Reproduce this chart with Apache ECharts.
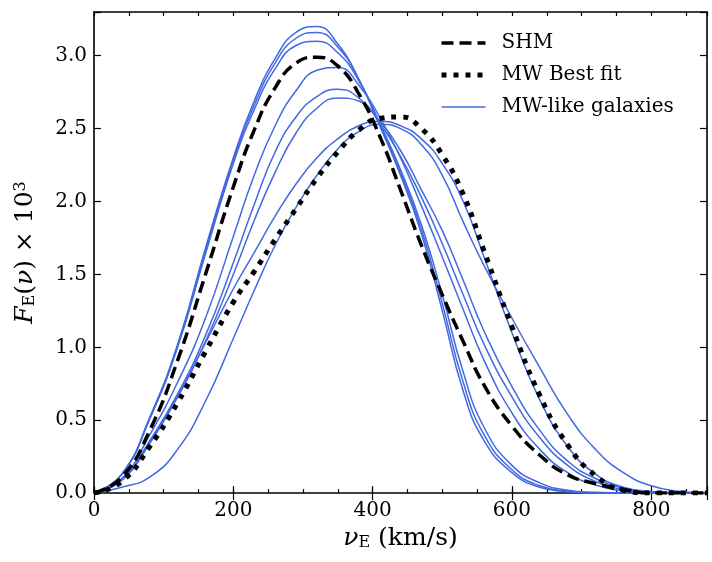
<!DOCTYPE html>
<html>
<head>
<meta charset="utf-8">
<script src="https://cdn.jsdelivr.net/npm/echarts@6/dist/echarts.min.js"></script>
<style>html,body{margin:0;padding:0;background:#fff;}#chart{width:712px;height:562px;}</style>
</head>
<body>
<div id="chart"></div>
<script>
// velocity grid (km/s)
var velocities = [0,40,80,120,160,200,230,260,290,320,350,380,410,440,470,500,530,560,600,640,680,720,760,800,840,880];
// F_E(v) x 10^3
var shm    = [0,0.11,0.43,0.91,1.50,2.10, 2.49,2.78,2.95,2.99,2.93,2.74,2.45,2.08,1.70,1.36,1.04,0.74, 0.46,0.26,0.125,0.065,0.025, 0,0,0];
var mwBest = [0,0.08,0.32,0.62,0.97,1.31, 1.52,1.74,1.95,2.16,2.34,2.49,2.57,2.58,2.50,2.32,2.05,1.66, 1.14,0.67,0.33,0.12,0.02, 0,0,0];
var g1 = [0,0.13,0.52,1.02,1.68,2.30, 2.69,2.98,3.16,3.20,3.08,2.84,2.52,2.18,1.78,1.25,0.70,0.36, 0.14,0.04,0.01,0,0, 0,0,0];
var g2 = [0,0.13,0.51,1.01,1.66,2.28, 2.66,2.95,3.12,3.16,3.06,2.84,2.53,2.20,1.81,1.30,0.76,0.40, 0.16,0.05,0.015,0,0, 0,0,0];
var g3 = [0,0.13,0.51,1.00,1.64,2.26, 2.63,2.91,3.07,3.10,3.02,2.83,2.54,2.22,1.84,1.36,0.83,0.45, 0.19,0.07,0.02,0.005,0, 0,0,0];
var g4 = [0,0.10,0.40,0.76,1.20,1.76, 2.18,2.52,2.76,2.90,2.92,2.80,2.58,2.30,1.97,1.62,1.26,0.91, 0.55,0.30,0.14,0.055,0.015, 0,0,0];
var g5 = [0,0.09,0.36,0.68,1.08,1.58, 1.98,2.34,2.58,2.72,2.77,2.71,2.54,2.31,2.03,1.71,1.36,1.02, 0.66,0.38,0.19,0.08,0.025, 0.005,0,0];
var g6 = [0,0.09,0.35,0.66,1.04,1.50, 1.87,2.20,2.47,2.64,2.71,2.69,2.55,2.35,2.08,1.80,1.46,1.11, 0.73,0.43,0.22,0.10,0.035, 0.008,0,0];
var g7 = [0,0.09,0.34,0.66,1.03,1.40, 1.65,1.90,2.12,2.30,2.43,2.52,2.55,2.52,2.43,2.26,2.00,1.62, 1.10,0.64,0.32,0.13,0.04, 0.01,0,0];
var g8 = [0,0.04,0.11,0.30,0.63,1.06, 1.39,1.70,1.96,2.18,2.36,2.48,2.53,2.50,2.39,2.18,1.86,1.56, 1.20,0.86,0.54,0.30,0.14, 0.05,0.012,0];
var galaxies = [g1,g2,g3,g4,g5,g6,g7,g8];
// tick labels
var xTickLabels = ['0','200','400','600','800'];
var yTickLabels = ['0.0','0.5','1.0','1.5','2.0','2.5','3.0'];

var FONT = 'DejaVu Serif';
var BLUE = '#4169e1';
var SHM_STYLE = {color:'#000', width:3.5, type:[12,6], cap:'butt'};
var BEST_STYLE = {color:'#000', width:5, type:[5,7], cap:'butt'};
var BLUE_STYLE = {color:BLUE, width:1.5};

function pairs(arr){ return velocities.map(function(v,i){ return [v, arr[i]]; }); }

var series = [];
galaxies.forEach(function(g){
  series.push({type:'line', name:'MW-like galaxies', data:pairs(g), showSymbol:false, symbol:'none',
    smooth:0.5, lineStyle:BLUE_STYLE, itemStyle:{color:BLUE}, z:2});
});
series.push({type:'line', name:'SHM', data:pairs(shm), showSymbol:false, symbol:'none', smooth:0.5,
  lineStyle:SHM_STYLE, itemStyle:{color:'#000'}, z:4});
series.push({type:'line', name:'MW Best fit', data:pairs(mwBest), showSymbol:false, symbol:'none', smooth:0.5,
  lineStyle:BEST_STYLE, itemStyle:{color:'#000'}, z:4});

var axLine = {show:true, onZero:false, lineStyle:{color:'#000', width:1.6}};
var tickStyle = {color:'#000', width:1.2};

function xFmt(v){ var s = String(Math.round(v)); return xTickLabels.indexOf(s) >= 0 ? s : ''; }
function yFmt(v){ var s = v.toFixed(1); return (Math.abs(v*2-Math.round(v*2))<1e-6 && yTickLabels.indexOf(s)>=0) ? s : ''; }

var titleRich = {
  n:{fontFamily:FONT, fontSize:25, lineHeight:25, color:'#000', verticalAlign:'top', padding:[0,0,6,0]},
  i:{fontFamily:FONT, fontSize:25, lineHeight:25, color:'#000', fontStyle:'italic', verticalAlign:'top', padding:[0,0,6,0]},
  sub:{fontFamily:FONT, fontSize:16, lineHeight:16, color:'#000', verticalAlign:'bottom'},
  sup:{fontFamily:FONT, fontSize:16, lineHeight:16, color:'#000', verticalAlign:'top'}
};

var option = {
  animation:false,
  backgroundColor:'#fff',
  grid:{left:94, right:5, top:12, bottom:64, containLabel:false},
  legend:{
    data:[
      {name:'SHM', lineStyle:SHM_STYLE},
      {name:'MW Best fit', lineStyle:BEST_STYLE},
      {name:'MW-like galaxies', lineStyle:BLUE_STYLE}
    ],
    orient:'vertical', left:434, top:28, itemWidth:44, itemHeight:14, itemGap:12,
    itemStyle:{opacity:0, borderWidth:0},
    textStyle:{fontFamily:FONT, fontSize:20, color:'#000', padding:[0,0,0,11]}
  },
  xAxis:[
    {type:'value', min:0, max:880, interval:50, position:'bottom', axisLine:axLine,
     axisTick:{inside:true, length:4, lineStyle:tickStyle},
     axisLabel:{formatter:xFmt, fontFamily:FONT, fontSize:20, color:'#000', margin:8},
     splitLine:{show:false},
     name:'{i|ν}{sub|E}{n| (km/s)}', nameLocation:'middle', nameGap:30,
     nameTextStyle:{rich:titleRich}},
    {type:'value', min:0, max:880, interval:200, position:'bottom', axisLine:{show:false},
     axisTick:{inside:true, length:7, lineStyle:tickStyle}, axisLabel:{show:false}, splitLine:{show:false}},
    {type:'value', min:0, max:880, interval:50, position:'top', axisLine:axLine,
     axisTick:{inside:true, length:4, lineStyle:tickStyle}, axisLabel:{show:false}, splitLine:{show:false}},
    {type:'value', min:0, max:880, interval:200, position:'top', axisLine:{show:false},
     axisTick:{inside:true, length:7, lineStyle:tickStyle}, axisLabel:{show:false}, splitLine:{show:false}}
  ],
  yAxis:[
    {type:'value', min:0, max:3.3, interval:0.5, position:'left', axisLine:axLine,
     axisTick:{inside:true, length:7, lineStyle:tickStyle},
     axisLabel:{formatter:yFmt, fontFamily:FONT, fontSize:20, color:'#000', margin:7},
     splitLine:{show:false},
     name:'{i|F}{sub|E}{n|(}{i|ν}{n|) × 10}{sup|3}', nameLocation:'middle', nameGap:46, nameRotate:90,
     nameTextStyle:{rich:titleRich}},
    {type:'value', min:0, max:3.3, interval:0.5, position:'right', axisLine:axLine,
     axisTick:{inside:true, length:7, lineStyle:tickStyle}, axisLabel:{show:false}, splitLine:{show:false}}
  ],
  series:series
};

var chart = echarts.init(document.getElementById('chart'), null, {renderer:'canvas'});
chart.setOption(option);
</script>
</body>
</html>
